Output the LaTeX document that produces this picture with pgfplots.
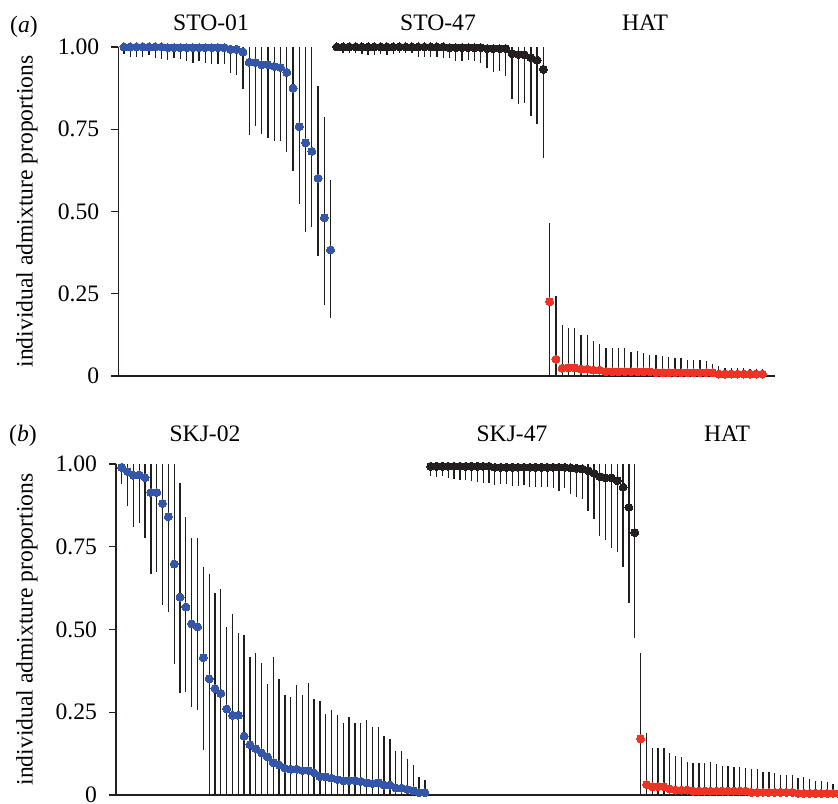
\documentclass[border=0pt]{standalone}
\usepackage{pgfplots}
\pgfplotsset{compat=1.18}
\usepackage{pgfplotstable}
\usepackage{fontspec}
\setmainfont{Liberation Serif}
\newcommand\ff{\fontsize{11.8}{14}\selectfont}
\definecolor{dblue}{RGB}{52,86,170}
\definecolor{dblack}{RGB}{35,31,32}
\definecolor{dred}{RGB}{238,50,36}
\definecolor{barcol}{RGB}{30,30,30}
\definecolor{axcol}{RGB}{35,31,32}

\pgfplotstableread{
x y lo hi
0 1.000 0.978 1
1 1.000 0.971 1
2 1.000 0.971 1
3 1.000 0.971 1
4 1.000 0.975 1
5 1.000 0.966 1
6 1.000 0.962 1
7 0.998 0.960 1
8 0.998 0.966 1
9 0.998 0.962 1
10 0.998 0.956 1
11 0.998 0.951 1
12 0.998 0.956 1
13 0.998 0.951 1
14 0.998 0.947 1
15 0.998 0.947 1
16 0.998 0.947 1
17 0.993 0.920 1
18 0.993 0.915 1
19 0.985 0.871 1
20 0.954 0.733 1
21 0.953 0.760 1
22 0.946 0.737 1
23 0.946 0.722 1
24 0.941 0.715 1
25 0.938 0.715 1
26 0.923 0.680 1
27 0.875 0.624 1
28 0.758 0.523 1
29 0.709 0.437 1
30 0.683 0.452 1
31 0.601 0.366 0.881
32 0.481 0.216 0.788
33 0.383 0.175 0.596
}\stoA

\pgfplotstableread{
x y lo hi
34 1.000 0.990 1
35 1.000 0.983 1
36 1.000 0.981 1
37 1.000 0.981 1
38 1.000 0.979 1
39 1.000 0.977 1
40 1.000 0.977 1
41 1.000 0.979 1
42 1.000 0.977 1
43 1.000 0.979 1
44 1.000 0.981 1
45 1.000 0.981 1
46 1.000 0.981 1
47 1.000 0.971 1
48 1.000 0.971 1
49 1.000 0.971 1
50 1.000 0.971 1
51 1.000 0.966 1
52 0.998 0.966 1
53 0.998 0.958 1
54 0.998 0.958 1
55 0.998 0.960 1
56 0.998 0.958 1
57 0.998 0.950 1
58 0.995 0.935 1
59 0.995 0.923 1
60 0.995 0.928 1
61 0.995 0.913 1
62 0.980 0.842 1
63 0.977 0.827 1
64 0.976 0.831 1
65 0.968 0.790 1
66 0.960 0.766 1
67 0.932 0.662 1
}\stoB

\pgfplotstableread{
x y lo hi
68 0.226 0 0.464
69 0.051 0 0.244
70 0.024 0 0.155
71 0.025 0 0.145
72 0.025 0 0.145
73 0.021 0 0.125
74 0.021 0 0.125
75 0.018 0 0.106
76 0.018 0 0.097
77 0.013 0 0.084
78 0.013 0 0.084
79 0.013 0 0.084
80 0.013 0 0.084
81 0.013 0 0.074
82 0.013 0 0.075
83 0.013 0 0.069
84 0.013 0 0.064
85 0.010 0 0.064
86 0.010 0 0.061
87 0.010 0 0.057
88 0.010 0 0.054
89 0.010 0 0.054
90 0.010 0 0.049
91 0.010 0 0.049
92 0.010 0 0.049
93 0.010 0 0.046
94 0.010 0 0.035
95 0.006 0 0.030
96 0.006 0 0.023
97 0.006 0 0.023
98 0.006 0 0.023
99 0.006 0 0.023
100 0.006 0 0.020
101 0.006 0 0.020
102 0.006 0 0.020
}\hatA

\pgfplotstableread{
x y lo hi
0 0.990 0.939 1
1 0.977 0.873 1
2 0.966 0.809 1
3 0.967 0.821 1
4 0.959 0.776 1
5 0.914 0.668 1
6 0.914 0.675 1
7 0.881 0.574 1
8 0.841 0.552 1
9 0.698 0.396 1
10 0.598 0.307 0.942
11 0.568 0.312 0.841
12 0.517 0.267 0.775
13 0.508 0.257 0.775
14 0.415 0.136 0.690
15 0.351 0 0.668
16 0.322 0 0.609
17 0.307 0 0.621
18 0.260 0 0.507
19 0.241 0 0.547
20 0.241 0 0.488
21 0.178 0 0.483
22 0.152 0 0.416
23 0.140 0 0.428
24 0.127 0 0.398
25 0.115 0 0.336
26 0.098 0 0.416
27 0.091 0 0.349
28 0.081 0 0.301
29 0.078 0 0.297
30 0.078 0 0.331
31 0.074 0 0.301
32 0.074 0 0.337
33 0.067 0 0.290
34 0.055 0 0.285
35 0.055 0 0.245
36 0.051 0 0.257
37 0.047 0 0.241
38 0.043 0 0.219
39 0.043 0 0.235
40 0.043 0 0.219
41 0.041 0 0.219
42 0.037 0 0.227
43 0.035 0 0.204
44 0.037 0 0.204
45 0.030 0 0.178
46 0.030 0 0.168
47 0.021 0 0.133
48 0.021 0 0.133
49 0.017 0 0.109
50 0.013 0 0.090
51 0.007 0 0.055
52 0.007 0 0.045
}\skjA

\pgfplotstableread{
x y lo hi
53 0.993 0.964 1
54 0.993 0.962 1
55 0.993 0.964 1
56 0.993 0.957 1
57 0.993 0.954 1
58 0.993 0.952 1
59 0.993 0.952 1
60 0.993 0.950 1
61 0.993 0.947 1
62 0.993 0.944 1
63 0.993 0.944 1
64 0.990 0.938 1
65 0.990 0.940 1
66 0.990 0.940 1
67 0.990 0.934 1
68 0.990 0.934 1
69 0.990 0.938 1
70 0.990 0.930 1
71 0.990 0.930 1
72 0.990 0.930 1
73 0.990 0.930 1
74 0.990 0.927 1
75 0.990 0.919 1
76 0.990 0.927 1
77 0.988 0.909 1
78 0.987 0.901 1
79 0.985 0.893 1
80 0.980 0.858 1
81 0.972 0.833 1
82 0.962 0.783 1
83 0.958 0.770 1
84 0.958 0.745 1
85 0.950 0.735 1
86 0.930 0.688 1
87 0.869 0.579 1
88 0.793 0.473 1
}\skjB

\pgfplotstableread{
x y lo hi
89 0.170 0 0.428
90 0.032 0 0.186
91 0.025 0 0.141
92 0.025 0 0.141
93 0.025 0 0.141
94 0.018 0 0.126
95 0.015 0 0.118
96 0.015 0 0.114
97 0.015 0 0.101
98 0.012 0 0.096
99 0.012 0 0.096
100 0.012 0 0.096
101 0.012 0 0.101
102 0.012 0 0.093
103 0.012 0 0.089
104 0.012 0 0.089
105 0.012 0 0.086
106 0.012 0 0.086
107 0.012 0 0.081
108 0.008 0 0.078
109 0.008 0 0.078
110 0.008 0 0.070
111 0.008 0 0.070
112 0.008 0 0.066
113 0.008 0 0.060
114 0.008 0 0.060
115 0.008 0 0.060
116 0.005 0 0.051
117 0.005 0 0.055
118 0.005 0 0.047
119 0.005 0 0.043
120 0.005 0 0.043
121 0.005 0 0.040
122 0.005 0 0.033
123 0.005 0 0.030
}\hatB

\pgfplotsset{
  myax/.style={
    scale only axis, anchor=south west,
    axis lines=left,
    axis line style={-, line width=0.6pt, draw=axcol},
    ymin=0, ymax=1,
    ytick={0,0.25,0.5,0.75,1},
    yticklabels={\mbox{0},\mbox{0.25},\mbox{0.50},\mbox{0.75},\mbox{1.00}},
    xtick=\empty,
    tick align=outside,
    major tick length=3.5pt,
    y tick style={line width=0.6pt, draw=axcol},
    yticklabel style={font=\ff, text=black, xshift=-2.5pt, /pgf/number format/assume math mode=true},
    ylabel={individual admixture proportions},
    label style={font=\ff},
    clip=false,
  },
  bars/.style={draw=none, mark=none, forget plot,
    error bars/.cd, y dir=both, y explicit, error mark=none,
    error bar style={draw=barcol, line width=0.65pt, solid}},
  dots/.style={only marks, mark=*, mark size=2pt, mark options={draw=#1, fill=#1, line width=0pt}},
}

\begin{document}
\begin{tikzpicture}
% panel (a)
\begin{axis}[myax, at={(59.15pt,213.5pt)}, width=328.35pt, height=164.5pt,
  xmin=-0.91, xmax=104.0,
  ylabel style={at={(axis description cs:-0.139,0.5)}, anchor=center}]
  \addplot[bars] table[x=x, y=y, y error plus expr=\thisrow{hi}-\thisrow{y}, y error minus expr=\thisrow{y}-\thisrow{lo}] {\stoA};
  \addplot[bars] table[x=x, y=y, y error plus expr=\thisrow{hi}-\thisrow{y}, y error minus expr=\thisrow{y}-\thisrow{lo}] {\stoB};
  \addplot[bars] table[x=x, y=y, y error plus expr=\thisrow{hi}-\thisrow{y}, y error minus expr=\thisrow{y}-\thisrow{lo}] {\hatA};
  \addplot[dots=dblue] table[x=x,y=y]{\stoA};
  \addplot[dots=dblack] table[x=x,y=y]{\stoB};
  \addplot[dots=dred] table[x=x,y=y]{\hatA};
\end{axis}
% panel (b)
\begin{axis}[myax, at={(58pt,4pt)}, width=361pt, height=165.5pt,
  xmin=-0.98, xmax=122.86,
  ylabel style={at={(axis description cs:-0.1233,0.5)}, anchor=center}]
  \addplot[bars] table[x=x, y=y, y error plus expr=\thisrow{hi}-\thisrow{y}, y error minus expr=\thisrow{y}-\thisrow{lo}] {\skjA};
  \addplot[bars] table[x=x, y=y, y error plus expr=\thisrow{hi}-\thisrow{y}, y error minus expr=\thisrow{y}-\thisrow{lo}] {\skjB};
  \addplot[bars] table[x=x, y=y, y error plus expr=\thisrow{hi}-\thisrow{y}, y error minus expr=\thisrow{y}-\thisrow{lo}] {\hatB};
  \addplot[dots=dblue] table[x=x,y=y]{\skjA};
  \addplot[dots=dblack] table[x=x,y=y]{\skjB};
  \addplot[dots=dred] table[x=x,y=y]{\hatB};
\end{axis}
% group titles and panel letters
\node[font=\ff, anchor=base] at (12pt,385pt) {(\textit{a})};
\node[font=\ff, anchor=base] at (105.5pt,386pt) {STO-01};
\node[font=\ff, anchor=base] at (219pt,386pt) {STO-47};
\node[font=\ff, anchor=base] at (322.5pt,386pt) {HAT};
\node[font=\ff, anchor=base] at (11.5pt,181pt) {(\textit{b})};
\node[font=\ff, anchor=base] at (102.5pt,181pt) {SKJ-02};
\node[font=\ff, anchor=base] at (256pt,181pt) {SKJ-47};
\node[font=\ff, anchor=base] at (363.5pt,181pt) {HAT};
\pgfresetboundingbox
\useasboundingbox (0,0) rectangle (419pt,401.5pt);
\end{tikzpicture}
\end{document}
